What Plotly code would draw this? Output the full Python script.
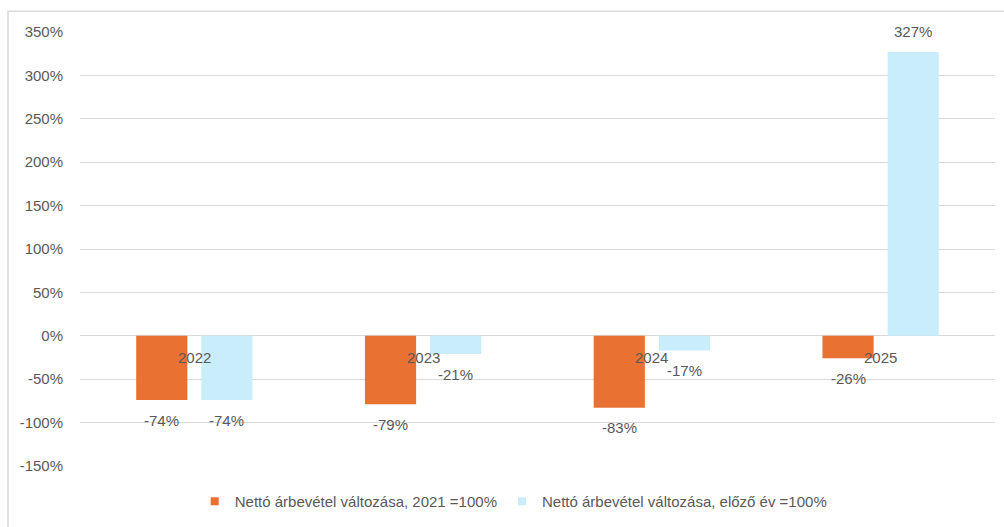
import plotly.graph_objects as go

# Évek és a két mutató százalékos értékei
years = ["2022", "2023", "2024", "2025"]
change_vs_2021 = [-74, -79, -83, -26]
change_vs_prev = [-74, -21, -17, 327]
tick_vals = [-150, -100, -50, 0, 50, 100, 150, 200, 250, 300, 350]
tick_text = [f"{v}%" for v in tick_vals]

series_names = [
    "Nettó árbevétel változása, 2021 =100%",
    "Nettó árbevétel változása, előző év =100%",
]
colors = ["#E97132", "#CAEDFB"]
text_color = "#595959"
font_family = "Liberation Sans, Arial, sans-serif"

fig = go.Figure()
for name, vals, col in zip(series_names, [change_vs_2021, change_vs_prev], colors):
    fig.add_trace(go.Bar(
        x=years, y=vals, name=name, marker=dict(color=col, line=dict(width=0)),
        hoverinfo="skip", showlegend=False,
    ))
# Kis négyzetes jelmagyarázat-jelek
for name, col in zip(series_names, colors):
    fig.add_trace(go.Scatter(
        x=[None], y=[None], mode="markers", name=name,
        marker=dict(symbol="square", size=8, color=col),
    ))

annotations = []
# Értékcímkék a sávok végénél
for idx, vals in enumerate([change_vs_2021, change_vs_prev]):
    offset = -0.5 + (idx + 0.5) * 0.5
    for i, v in enumerate(vals):
        annotations.append(dict(
            x=i + offset * 0.567, y=v, xref="x", yref="y",
            text=f"{v}%", showarrow=False,
            yshift=20 if v >= 0 else -20, yanchor="middle",
            font=dict(size=15, color=text_color, family=font_family),
        ))
# Kategóriacímkék a nulla vonalnál
for i, yr in enumerate(years):
    annotations.append(dict(
        x=i, y=0, xref="x", yref="y", text=yr, showarrow=False,
        yshift=-22, yanchor="middle",
        font=dict(size=15, color=text_color, family=font_family),
    ))

fig.update_layout(
    width=1004, height=527,
    margin=dict(l=80, r=9, t=32, b=58),
    paper_bgcolor="white", plot_bgcolor="white",
    barmode="group", bargap=0.43, bargroupgap=0.215,
    font=dict(family=font_family, size=15, color=text_color),
    showlegend=True,
    legend=dict(
        orientation="h", x=0.474, xanchor="center", y=-0.082, yanchor="middle",
        font=dict(size=15, color=text_color), itemwidth=30,
    ),
    xaxis=dict(
        type="category", showticklabels=False, showgrid=False, showline=False,
        zeroline=False, range=[-0.5, 3.5],
    ),
    yaxis=dict(
        range=[-150, 350], tickvals=tick_vals, ticktext=tick_text,
        showgrid=True, gridcolor="#D9D9D9", gridwidth=1,
        zeroline=True, zerolinecolor="#D9D9D9", zerolinewidth=1,
        showline=False, ticks="", ticklabelstandoff=16,
        tickfont=dict(size=15, color=text_color),
    ),
    annotations=annotations,
    shapes=[dict(
        type="rect", xref="paper", yref="paper",
        x0=(8 - 80) / 915, x1=(1010 - 80) / 915,
        y0=(469 - 540) / 437, y1=(469 - 11) / 437,
        line=dict(color="#D9D9D9", width=1.5), fillcolor="rgba(0,0,0,0)",
        layer="below",
    )],
)

fig.write_html("out.html")
